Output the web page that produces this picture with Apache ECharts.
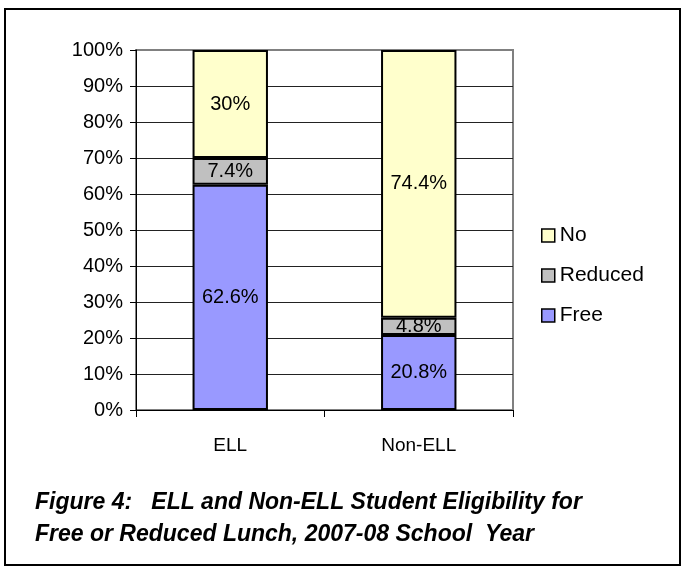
<!DOCTYPE html>
<html>
<head>
<meta charset="utf-8">
<script src="https://cdn.jsdelivr.net/npm/echarts@6/dist/echarts.min.js"></script>
<style>
  html, body { margin: 0; padding: 0; background: #fff; }
  #chart { width: 685px; height: 569px; }
</style>
</head>
<body>
<div id="chart"></div>
<script>
// categories and series values (percent)
var groups = ['ELL', 'Non-ELL'];
var freeVals = [62.6, 20.8];
var reducedVals = [7.4, 4.8];
var noVals = [30, 74.4];
var labelText = {
    free: ['62.6%', '20.8%'],
    reduced: ['7.4%', '4.8%'],
    no: ['30%', '74.4%']
};

var chart = echarts.init(document.getElementById('chart'));
var font = '"Liberation Sans", Arial, sans-serif';

function makeSeries(name, vals, color, texts) {
    return {
        name: name,
        type: 'bar',
        stack: 'all',
        data: vals,
        barWidth: '40%',
        itemStyle: { color: color, borderColor: '#000', borderWidth: 2 },
        label: {
            show: true,
            position: 'inside',
            color: '#000',
            fontFamily: font,
            fontSize: 20,
            formatter: function (p) { return texts[p.dataIndex]; }
        }
    };
}

// gridline colours, 0% .. 100%
var gridColors = ['#222', '#222', '#222', '#222', '#222', '#222', '#222', '#222', '#222', '#222', '#808080'];

chart.setOption({
    animation: false,
    grid: { left: 136, right: 172, top: 50, bottom: 159, show: true, borderColor: '#808080', borderWidth: 2 },
    legend: {
        orient: 'vertical',
        left: 536,
        top: 220,
        icon: 'rect',
        itemWidth: 13,
        itemHeight: 13,
        itemGap: 19,
        data: ['No', 'Reduced', 'Free'],
        textStyle: { fontFamily: font, fontSize: 21, color: '#000' },
        itemStyle: { borderColor: '#000', borderWidth: 1.5 }
    },
    xAxis: {
        type: 'category',
        data: groups,
        axisLine: { lineStyle: { color: '#000', width: 1 } },
        axisTick: { show: true, length: 7, lineStyle: { color: '#000' } },
        axisLabel: { margin: 26, color: '#000', fontFamily: font, fontSize: 19 }
    },
    yAxis: {
        type: 'value',
        min: 0,
        max: 100,
        interval: 10,
        axisLine: { show: true, lineStyle: { color: '#000', width: 1 } },
        axisTick: { show: true, length: 6, lineStyle: { color: '#000' } },
        axisLabel: { formatter: '{value}%', margin: 13, color: '#000', fontFamily: font, fontSize: 20 },
        splitLine: { lineStyle: { color: gridColors, width: 1 } }
    },
    series: [
        makeSeries('Free', freeVals, '#9999ff', labelText.free),
        makeSeries('Reduced', reducedVals, '#c0c0c0', labelText.reduced),
        makeSeries('No', noVals, '#ffffcc', labelText.no)
    ],
    graphic: [
        {
            type: 'rect',
            shape: { x: 5, y: 9, width: 675, height: 556 },
            style: { fill: 'none', stroke: '#000', lineWidth: 2 },
            silent: true
        },
        {
            type: 'text',
            left: 35,
            top: 487,
            style: {
                text: 'Figure 4:   ELL and Non-ELL Student Eligibility for\nFree or Reduced Lunch, 2007-08 School  Year',
                fontFamily: font,
                fontSize: 23,
                fontWeight: 'bold',
                fontStyle: 'italic',
                lineHeight: 32,
                fill: '#000'
            }
        }
    ]
});
</script>
</body>
</html>
